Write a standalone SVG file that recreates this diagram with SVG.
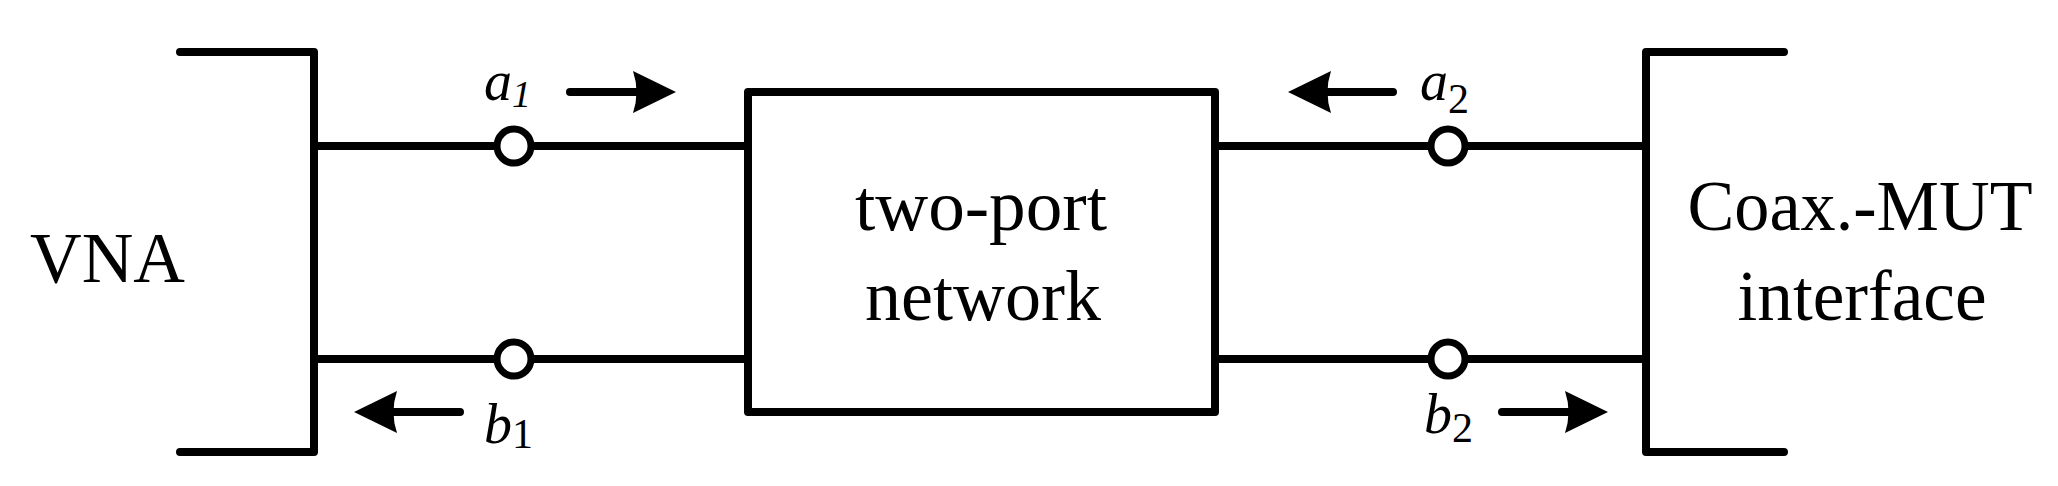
<svg xmlns="http://www.w3.org/2000/svg" width="2058" height="486" viewBox="0 0 2058 486">
<style>
.w{stroke:#000;stroke-width:8;fill:none;stroke-linecap:round;stroke-linejoin:round}
.t{font-family:'Liberation Serif',serif;font-size:72px;fill:#000}
.i{font-family:'Liberation Serif',serif;font-style:italic;fill:#000}
.c{fill:#fff;stroke:#000;stroke-width:7}
</style>
<defs>
<path id="hr" d="M0,0 L-43,-21 Q-36,0 -43,21 Z" fill="#000"/>
</defs>
<g id="vna">
<path class="w" d="M180,52 H314 V452 H180"/>
<text class="t" x="30" y="282" textLength="155" lengthAdjust="spacingAndGlyphs">VNA</text>
</g>
<g id="twoport">
<rect class="w" x="748" y="92" width="467" height="320"/>
<text class="t" x="981" y="230" text-anchor="middle" textLength="252" lengthAdjust="spacingAndGlyphs">two-port</text>
<text class="t" x="983" y="320" text-anchor="middle" textLength="236" lengthAdjust="spacingAndGlyphs">network</text>
</g>
<g id="mut">
<path class="w" d="M1784,52 H1646 V452 H1784"/>
<text class="t" x="1860" y="230" text-anchor="middle" textLength="345" lengthAdjust="spacingAndGlyphs">Coax.-MUT</text>
<text class="t" x="1862" y="320" text-anchor="middle" textLength="249" lengthAdjust="spacingAndGlyphs">interface</text>
</g>
<g id="connectors">
<path class="w" d="M314,146 H748 M314,359 H748 M1215,146 H1646 M1215,359 H1646"/>
<circle class="c" cx="514" cy="146" r="17"/>
<circle class="c" cx="514" cy="359" r="17"/>
<circle class="c" cx="1448" cy="146" r="17"/>
<circle class="c" cx="1448" cy="359" r="17"/>
<path class="w" d="M570,92 H640 M460,412 H390 M1393,92 H1325 M1502,412 H1570"/>
<use href="#hr" transform="translate(676,92)"/>
<use href="#hr" transform="translate(354,412) rotate(180)"/>
<use href="#hr" transform="translate(1288,92) rotate(180)"/>
<use href="#hr" transform="translate(1608,412)"/>
</g>
<g id="labels">
<text class="i" x="484" y="100" font-size="56">a<tspan font-size="38" dy="7">1</tspan></text>
<text class="i" x="484" y="443" font-size="56">b<tspan font-size="42" font-style="normal" dy="5">1</tspan></text>
<text class="i" x="1420" y="100" font-size="56">a<tspan font-size="42" font-style="normal" dy="13">2</tspan></text>
<text class="i" x="1424" y="433" font-size="56">b<tspan font-size="42" font-style="normal" dy="9">2</tspan></text>
</g>
</svg>
